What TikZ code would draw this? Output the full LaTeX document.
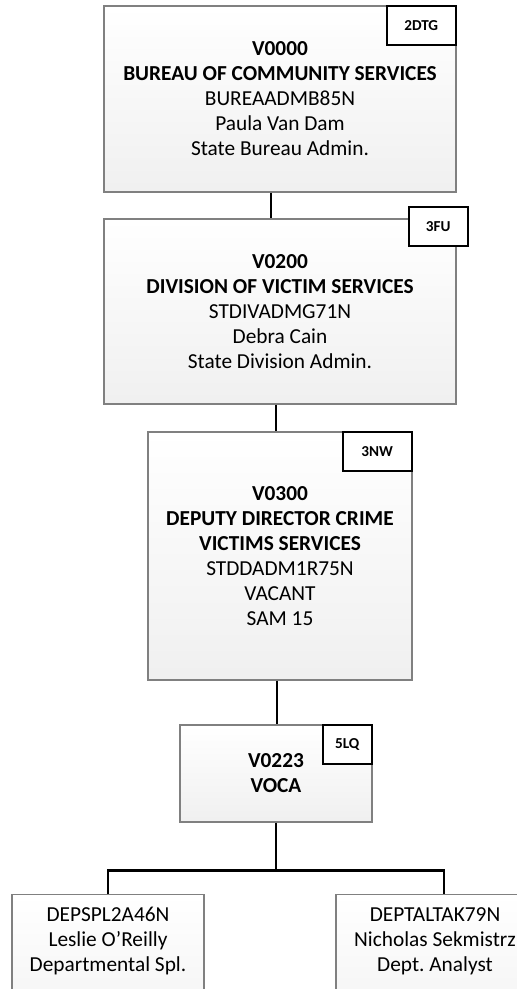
\documentclass[tikz,border=0pt]{standalone}
\usepackage{fontspec}
\setmainfont{Carlito}
\usetikzlibrary{positioning,calc}
\frenchspacing

\begin{document}
\begin{tikzpicture}[x=0.75pt,y=-0.75pt,
  posbox/.style={draw=gray, line width=0.9pt, top color=white, bottom color=gray!12,
    align=center, font=\fontsize{16}{18.75}\selectfont},
  tagbox/.style={draw=black, line width=1.3pt, fill=white, minimum height=29.25pt,
    anchor=north east, font=\fontsize{11.4}{12}\selectfont\bfseries},
  link/.style={line width=1pt},
  branch/.style={line width=2pt}]
  \useasboundingbox (0,0) rectangle (517,989);
  \clip (0,0) rectangle (517,989);
  % position boxes
  \path (280,99) node (bureau) [posbox, minimum width=264pt, minimum height=139.5pt]
    {\textbf{V0000}\\ \textbf{BUREAU OF COMMUNITY SERVICES}\\ BUREAADMB85N\\ Paula Van Dam\\ State Bureau Admin.};
  \path (280,311.5) node (division) [posbox, minimum width=264pt, minimum height=138.75pt]
    {\textbf{V0200}\\ \textbf{DIVISION OF VICTIM SERVICES}\\ STDIVADMG71N\\ Debra Cain\\ State Division Admin.};
  \path (280,556) node (deputy) [posbox, minimum width=198pt, minimum height=186pt]
    {\textbf{V0300}\\ \textbf{DEPUTY DIRECTOR CRIME}\\ \textbf{VICTIMS SERVICES}\\ STDDADM1R75N\\ VACANT\\ SAM 15};
  \path (276,773.5) node (voca) [posbox, minimum width=144pt, minimum height=72.75pt]
    {\textbf{V0223}\\ \textbf{VOCA}};
  \path (108,894) node (spl) [posbox, anchor=north, minimum width=144pt, inner ysep=9.5pt, text depth=60pt]
    {DEPSPL2A46N\\ Leslie O’Reilly\\ Departmental Spl.};
  \path (435,894) node (analyst) [posbox, anchor=north, minimum width=148.5pt, inner ysep=9.5pt, text depth=60pt]
    {DEPTALTAK79N\\ Nicholas Sekmistrz\\ Dept. Analyst};
  % tags
  \node (tagbureau) [tagbox, minimum width=51.75pt] at (bureau.north east) {2DTG};
  \node (tagdivision) [tagbox, minimum width=44.25pt] at ($(division.north east)+(12,-12)$) {3FU};
  \node (tagdeputy) [tagbox, minimum width=51.75pt] at (deputy.north east) {3NW};
  \node (tagvoca) [tagbox, minimum width=36.75pt] at (voca.north east) {5LQ};
  % connectors
  \draw[link] ($(bureau.south)+(-9,0)$) -- ($(division.north)+(-9,0)$);
  \draw[link] ($(division.south)+(-4,0)$) -- ($(deputy.north)+(-4,0)$);
  \draw[link] ($(deputy.south)+(-3,0)$) -- ($(voca.north)+(1,0)$);
  \coordinate (split) at ($(voca.south)+(0,48)$);
  \draw[branch] (voca.south) -- (split);
  \draw[branch] (spl.north) |- (split) -| ($(analyst.north)+(9,0)$);
\end{tikzpicture}
\end{document}
